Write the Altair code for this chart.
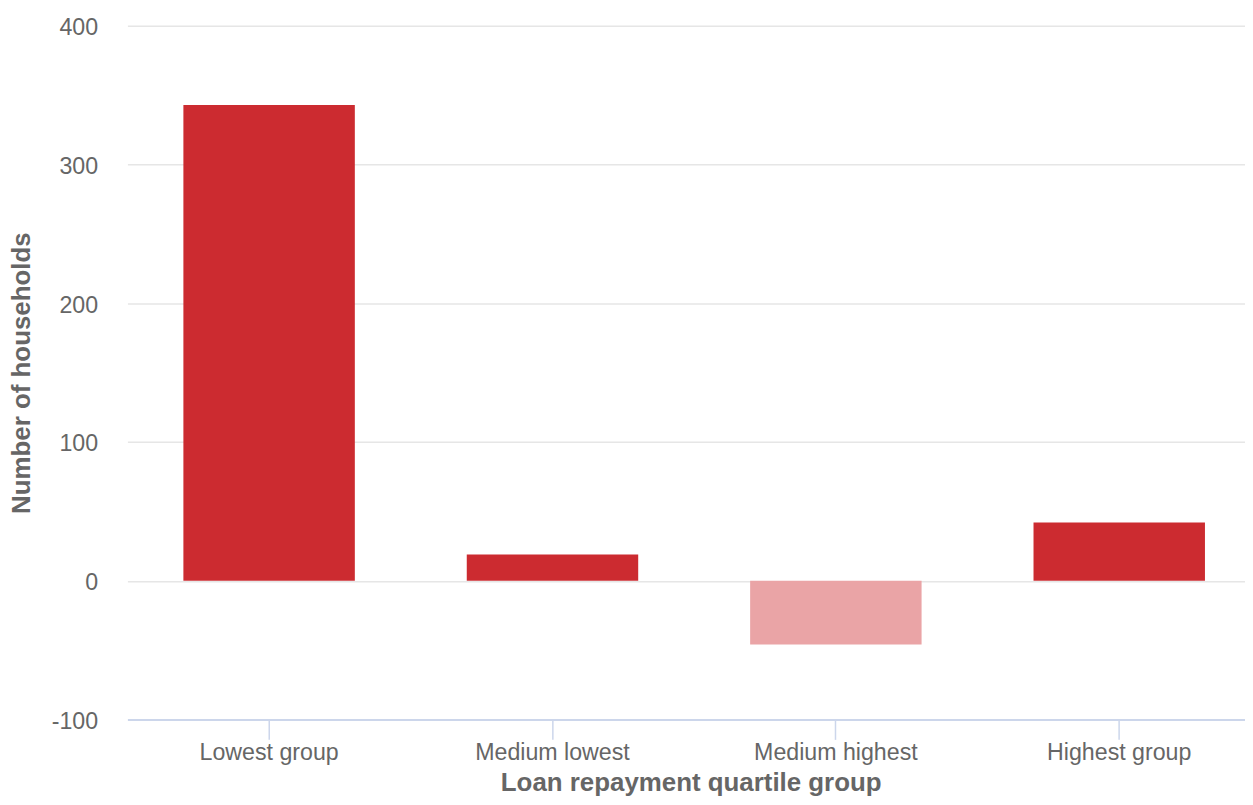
import altair as alt
import pandas as pd

categories = ["Lowest group", "Medium lowest", "Medium highest", "Highest group"]
households = [343, 19, -46, 42]

df = pd.DataFrame({"group": categories, "value": households})

FONT = "Liberation Sans"
GRAY = "#666666"
PLOT_W = 1139
PLOT_H = 697

chart = alt.Chart(df).mark_bar(width=alt.RelativeBandSize(0.605)).encode(
    x=alt.X(
        "group:N",
        sort=categories,
        scale=alt.Scale(paddingInner=0, paddingOuter=0),
        axis=alt.Axis(
            title="Loan repayment quartile group",
            labelAngle=0,
            labelFont=FONT,
            labelFontSize=23.3,
            labelColor=GRAY,
            labelPadding=2,
            ticks=True,
            tickSize=20,
            tickColor="#ccd6eb",
            tickWidth=1.5,
            domainColor="#ccd6eb",
            domainWidth=2,
            grid=False,
            titleFont=FONT,
            titleFontSize=26,
            titleFontWeight="bold",
            titleColor=GRAY,
            titleX=566,
            titleY=71,
            titleAlign="center",
            titleBaseline="alphabetic",
        ),
    ),
    y=alt.Y(
        "value:Q",
        scale=alt.Scale(domain=[-100, 400], nice=False),
        axis=alt.Axis(
            title="Number of households",
            values=[-100, 0, 100, 200, 300, 400],
            labelExpr="toString(datum.value)",
            labelFont=FONT,
            labelFontSize=23.3,
            labelColor=GRAY,
            labelPadding=30,
            labelOffset=2,
            ticks=False,
            domain=False,
            grid=True,
            gridColor="#e6e6e6",
            gridWidth=1.5,
            titleFont=FONT,
            titleFontSize=26,
            titleFontWeight="bold",
            titleColor=GRAY,
            titleAngle=-90,
            titleX=-106,
            titleY=348.5,
            titleAlign="center",
            titleBaseline="middle",
        ),
    ),
    color=alt.condition(alt.datum.value < 0, alt.value("#eaa4a6"), alt.value("#cc2b30")),
).properties(
    width=PLOT_W,
    height=PLOT_H,
    autosize=alt.AutoSizeParams(type="none"),
    padding={"left": 120, "top": 16, "right": -16, "bottom": 76},
).configure_view(stroke=None)

chart.save("out.html", embed_options={"renderer": "svg", "actions": False})
